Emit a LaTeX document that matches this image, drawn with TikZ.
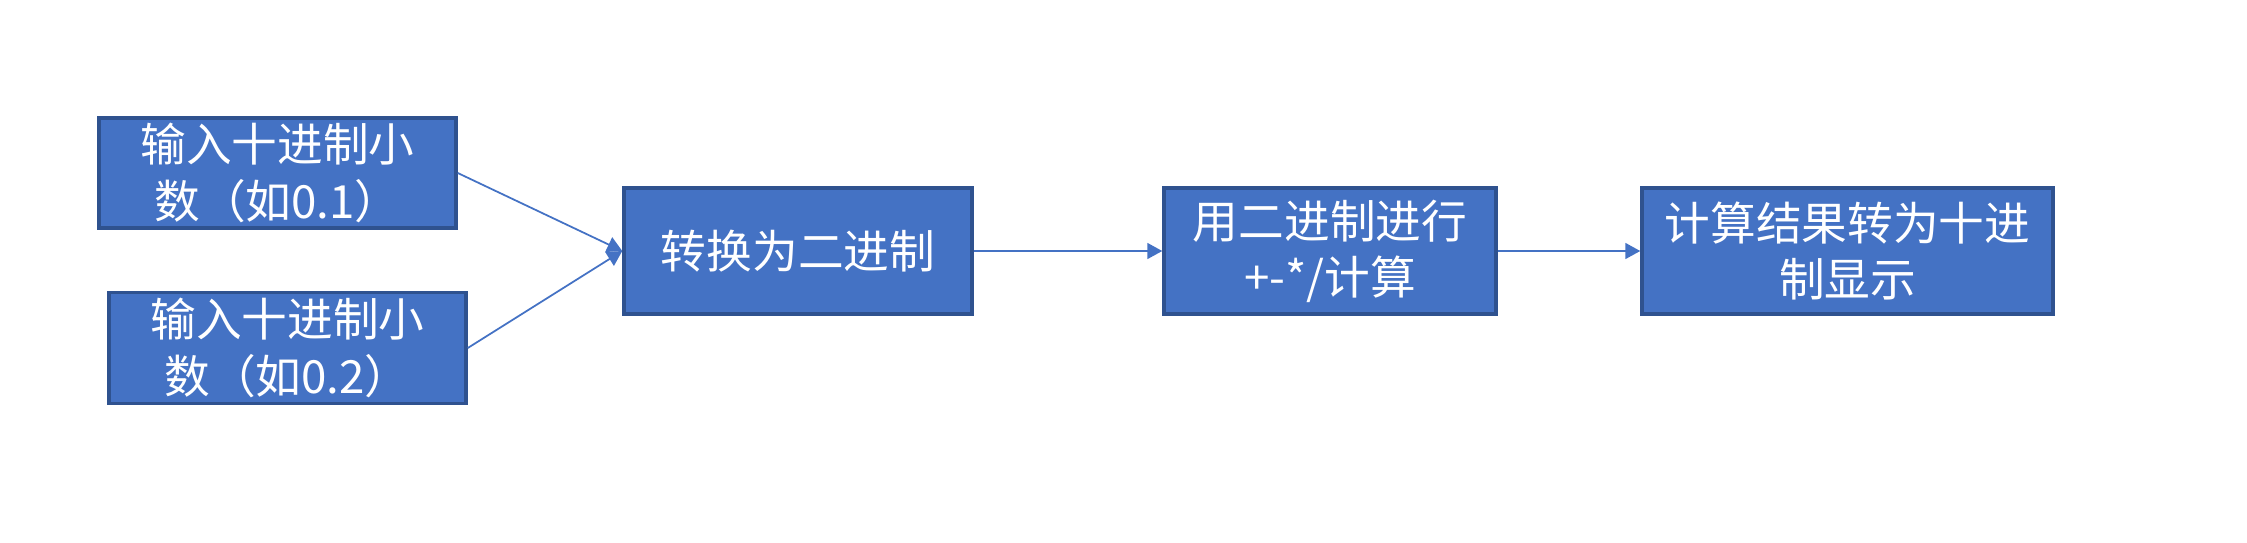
\documentclass[tikz,border=0pt]{standalone}
\usepackage{fontspec}
\setmainfont{Noto Sans CJK SC}
\usetikzlibrary{arrows.meta}
\definecolor{boxblue}{HTML}{4472C4}
\definecolor{boxedge}{HTML}{2F528F}
\tikzset{
  flowbox/.style={draw=boxedge, line width=1pt, fill=boxblue, text=white,
    align=center, inner sep=0pt, font=\fontsize{13pt}{16pt}\selectfont},
  flowarrow/.style={draw=boxblue, line width=0.5pt, -{Triangle[length=1.5mm,width=1.6mm]}}
}
\begin{document}
\begin{tikzpicture}
\useasboundingbox (0,0) rectangle (22.47,5.42);
% The two inputs on the left
\node[flowbox, minimum width=3.57cm, minimum height=1.10cm] (inA) at (2.775,3.69) {输入十进制小\\数（如0.1）};
\node[flowbox, minimum width=3.57cm, minimum height=1.11cm] (inB) at (2.875,1.94) {输入十进制小\\数（如0.2）};
% The main row of steps
\node[flowbox, minimum width=3.48cm, minimum height=1.26cm] (tobin) at (7.98,2.91) {转换为二进制};
\node[flowbox, minimum width=3.32cm, minimum height=1.26cm] (calc) at (13.30,2.91) {用二进制进行\\+-*/计算};
\node[flowbox, minimum width=4.11cm, minimum height=1.26cm] (todec) at (18.475,2.91) {计算结果转为十进\\制显示};
% Both inputs meet at the same point of the first step
\draw[flowarrow] (inA.east) -- (tobin.west);
\draw[flowarrow] (inB.east) -- (tobin.west);
\draw[flowarrow] (tobin) -- (calc);
\draw[flowarrow] (calc) -- (todec);
\end{tikzpicture}
\end{document}
